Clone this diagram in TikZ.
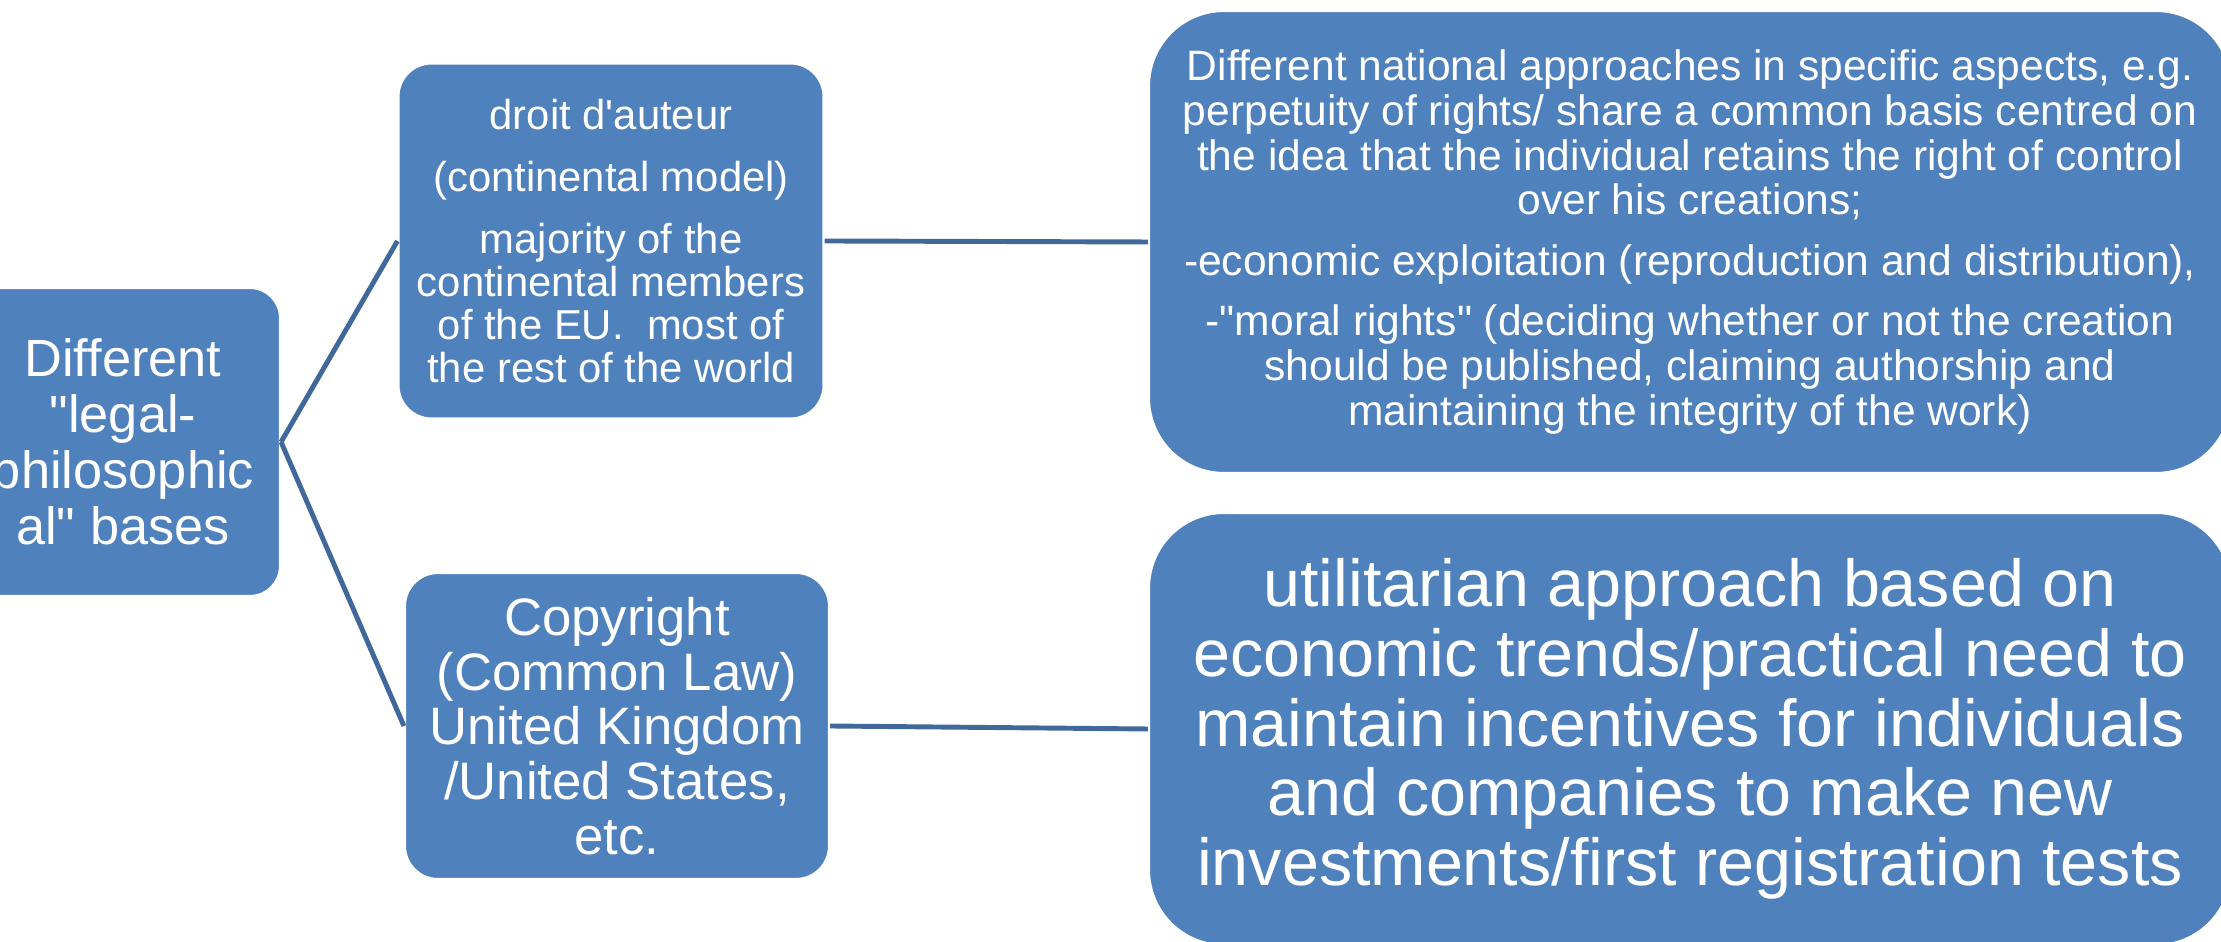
\documentclass[tikz,border=0pt]{standalone}
\usepackage{fontspec}
\setmainfont{Liberation Sans}[Ligatures=TeXOff]
\definecolor{boxblue}{RGB}{79,129,189}
\definecolor{linkblue}{RGB}{64,104,154}

\begin{document}
\begin{tikzpicture}[
  box/.style={rectangle, fill=boxblue, draw=white, line width=0.6pt, text=white, align=center, inner sep=0pt},
  link/.style={draw=linkblue, line width=1.4pt}
]

\useasboundingbox (0,0) rectangle (22.21,9.42);

\coordinate (B)  at (1.23,5.00);
\coordinate (DA) at (6.11,7.01);
\coordinate (CR) at (6.17,2.16);
\coordinate (NA) at (16.90,7.00);
\coordinate (UA) at (16.90,2.13);

\node[box, rounded corners=0.3cm, minimum width=3.14cm, minimum height=3.08cm,
  font=\fontsize{14.9}{15.9}\selectfont] (base) at (B)
  {Different\\"legal-\\philosophic\\al" bases};

\node[box, rounded corners=0.33cm, minimum width=4.25cm, minimum height=3.55cm,
  font=\fontsize{11.9}{12.2}\selectfont] (droit) at (DA)
  {droit d'auteur\\[5.4pt]
   (continental model)\\[5.4pt]
   majority of the\\continental members\\of the EU.~ most of\\the rest of the world};

\node[box, rounded corners=0.33cm, minimum width=4.24cm, minimum height=3.06cm,
  font=\fontsize{15}{15.6}\selectfont] (copy) at (CR)
  {Copyright\\(Common Law)\\United Kingdom\\/United States,\\etc.};

\node[box, rounded corners=0.75cm, minimum width=10.82cm, minimum height=4.62cm,
  font=\fontsize{12.1}{12.7}\selectfont] (nat) at (NA)
  {Different national approaches in specific aspects, e.g.\\
   perpetuity of rights/ share a common basis centred on\\
   the idea that the individual retains the right of control\\
   over his creations;\\[4.5pt]
   -economic exploitation (reproduction and distribution),\\[4.5pt]
   -"moral rights" (deciding whether or not the creation\\
   should be published, claiming authorship and\\
   maintaining the integrity of the work)};

\node[box, rounded corners=0.75cm, minimum width=10.82cm, minimum height=4.32cm,
  font=\fontsize{18.9}{19.8}\selectfont] (util) at (UA)
  {utilitarian approach based on\\
   economic trends/practical need to\\
   maintain incentives for individuals\\
   and companies to make new\\
   investments/first registration tests};

\draw[link] (base.east) -- (droit.west);
\draw[link] (base.east) -- (copy.west);
\draw[link] (droit.east) -- (nat.west);
\draw[link] (copy.east) -- (util.west);

\end{tikzpicture}
\end{document}
